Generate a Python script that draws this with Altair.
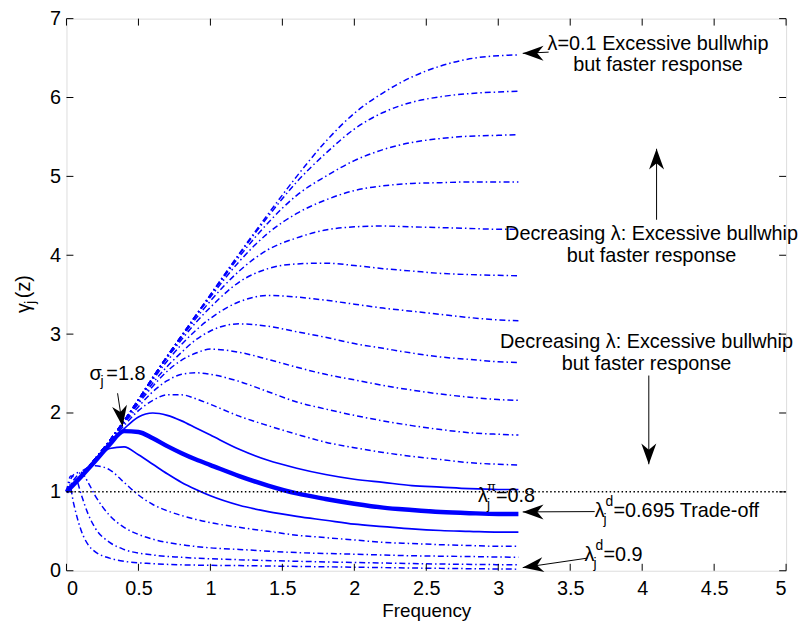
import altair as alt
import pandas as pd

# ---------------- data ----------------
FREQ = [0.0, 0.1, 0.2, 0.3, 0.4, 0.5, 0.6, 0.7, 0.8, 0.9, 1.0, 1.2, 1.4,
        1.6, 1.8, 2.0, 2.2, 2.4, 2.6, 2.8, 3.0, 3.14]

GAMMA_01 = [1.0, 1.2, 1.42, 1.65, 1.9, 2.17, 2.45, 2.72, 2.98, 3.24, 3.5, 4.02, 4.52, 5.0, 5.44, 5.8, 6.06, 6.26, 6.4, 6.49, 6.53, 6.54]
GAMMA_02 = [1.0, 1.2, 1.42, 1.65, 1.9, 2.17, 2.45, 2.72, 2.98, 3.24, 3.5, 4.01, 4.49, 4.93, 5.29, 5.6, 5.81, 5.94, 6.01, 6.05, 6.07, 6.08]
GAMMA_03 = [1.0, 1.2, 1.42, 1.65, 1.9, 2.17, 2.45, 2.72, 2.98, 3.24, 3.49, 3.98, 4.41, 4.76, 5.0, 5.2, 5.34, 5.43, 5.48, 5.51, 5.52, 5.53]
GAMMA_04 = [1.0, 1.2, 1.42, 1.65, 1.9, 2.17, 2.45, 2.72, 2.98, 3.23, 3.47, 3.92, 4.28, 4.53, 4.7, 4.82, 4.88, 4.91, 4.92, 4.93, 4.93, 4.93]
GAMMA_05 = [1.0, 1.2, 1.42, 1.65, 1.9, 2.17, 2.45, 2.71, 2.96, 3.2, 3.42, 3.8, 4.07, 4.22, 4.32, 4.36, 4.37, 4.36, 4.35, 4.34, 4.33, 4.33]
GAMMA_06 = [1.0, 1.2, 1.42, 1.65, 1.9, 2.17, 2.44, 2.7, 2.93, 3.15, 3.34, 3.66, 3.83, 3.89, 3.9, 3.87, 3.83, 3.8, 3.77, 3.755, 3.745, 3.74]
GAMMA_07 = [1.0, 1.2, 1.42, 1.65, 1.9, 2.16, 2.42, 2.66, 2.87, 3.05, 3.2, 3.41, 3.49, 3.47, 3.43, 3.38, 3.33, 3.29, 3.25, 3.21, 3.18, 3.17]
GAMMA_08 = [1.0, 1.2, 1.42, 1.65, 1.89, 2.14, 2.38, 2.59, 2.77, 2.93, 3.04, 3.13, 3.1, 3.03, 2.96, 2.88, 2.82, 2.76, 2.71, 2.68, 2.65, 2.64]
GAMMA_09 = [1.0, 1.2, 1.42, 1.65, 1.88, 2.12, 2.34, 2.53, 2.67, 2.76, 2.81, 2.77, 2.68, 2.58, 2.49, 2.42, 2.35, 2.29, 2.24, 2.2, 2.17, 2.16]
GAMMA_10 = [1.0, 1.2, 1.42, 1.64, 1.87, 2.08, 2.27, 2.41, 2.49, 2.51, 2.49, 2.4, 2.27, 2.14, 2.05, 1.97, 1.9, 1.84, 1.79, 1.75, 1.73, 1.72]
GAMMA_11 = [1.0, 1.2, 1.41, 1.63, 1.84, 2.03, 2.16, 2.23, 2.23, 2.18, 2.11, 1.96, 1.84, 1.73, 1.63, 1.56, 1.5, 1.45, 1.41, 1.37, 1.35, 1.34]
GAMMA_12 = [1.0, 1.19, 1.4, 1.62, 1.8, 1.95, 2.0, 1.97, 1.9, 1.81, 1.72, 1.54, 1.4, 1.3, 1.22, 1.16, 1.12, 1.08, 1.06, 1.04, 1.03, 1.03]
GAMMA_13 = [1.0, 1.19, 1.39, 1.6, 1.77, 1.76, 1.68, 1.58, 1.49, 1.41, 1.34, 1.2, 1.08, 0.98, 0.91, 0.85, 0.8, 0.77, 0.745, 0.73, 0.72, 0.72]
GAMMA_14 = [1.0, 1.18, 1.38, 1.55, 1.57, 1.47, 1.35, 1.23, 1.12, 1.03, 0.95, 0.83, 0.75, 0.69, 0.64, 0.59, 0.56, 0.53, 0.51, 0.5, 0.49, 0.49]

FREQ_15 = [0.0, 0.05, 0.1, 0.2, 0.3, 0.4, 0.5, 0.6, 0.7, 0.8, 0.9, 1.0, 1.2, 1.4, 1.6, 1.8, 2.0, 2.2, 2.4, 2.6, 2.8, 3.0, 3.14]
GAMMA_15 = [1.0, 1.15, 1.25, 1.33, 1.28, 1.12, 0.96, 0.84, 0.76, 0.7, 0.65, 0.61, 0.55, 0.5, 0.45, 0.42, 0.39, 0.36, 0.345, 0.33, 0.32, 0.31, 0.31]
FREQ_16 = [0.0, 0.05, 0.1, 0.15, 0.2, 0.3, 0.4, 0.5, 0.6, 0.8, 1.0, 1.2, 1.6, 2.0, 2.4, 2.8, 3.14]
GAMMA_16 = [1.0, 1.22, 1.25, 1.12, 0.95, 0.7, 0.55, 0.46, 0.4, 0.33, 0.29, 0.27, 0.23, 0.21, 0.19, 0.18, 0.17]
FREQ_17 = [0.0, 0.03, 0.07, 0.1, 0.15, 0.2, 0.3, 0.4, 0.6, 0.8, 1.2, 1.6, 2.0, 2.6, 3.14]
GAMMA_17 = [1.0, 1.2, 1.15, 0.98, 0.72, 0.54, 0.36, 0.27, 0.2, 0.17, 0.14, 0.12, 0.105, 0.085, 0.075]
FREQ_18 = [0.0, 0.02, 0.05, 0.1, 0.15, 0.2, 0.3, 0.4, 0.6, 0.8, 1.2, 1.6, 2.0, 2.6, 3.14]
GAMMA_18 = [1.0, 1.1, 0.85, 0.52, 0.33, 0.24, 0.16, 0.12, 0.09, 0.075, 0.065, 0.055, 0.045, 0.03, 0.02]

LINE_STYLE = ["dashdot"] * 11 + ["solid", "thick", "solid"] + ["dashdot"] * 4

X_TICKS = [0, 0.5, 1, 1.5, 2, 2.5, 3, 3.5, 4, 4.5, 5]
Y_TICKS = [0, 1, 2, 3, 4, 5, 6, 7]
REF_LEVEL = [1.0]

TEXT_TOP_1 = "λ=0.1 Excessive bullwhip"
TEXT_TOP_2 = "but  faster response"
TEXT_DEC_1 = "Decreasing λ: Excessive bullwhip"
TEXT_DEC_2 = "but  faster response"

# ---------------- build table ----------------
series = [(FREQ, g) for g in [GAMMA_01, GAMMA_02, GAMMA_03, GAMMA_04, GAMMA_05, GAMMA_06,
                              GAMMA_07, GAMMA_08, GAMMA_09, GAMMA_10, GAMMA_11, GAMMA_12,
                              GAMMA_13, GAMMA_14]]
series += [(FREQ_15, GAMMA_15), (FREQ_16, GAMMA_16), (FREQ_17, GAMMA_17), (FREQ_18, GAMMA_18)]
rows = []
for i, (fx, gy) in enumerate(series):
    for a, b in zip(fx, gy):
        rows.append({"curve": i, "freq": a, "gamma": b, "style": LINE_STYLE[i]})
df = pd.DataFrame(rows)

W, H = 726, 557
FONT = "Liberation Sans"
BLUE = "#0000ff"
TS = 20
SS = 14
XS = alt.Scale(domain=[0, 5], nice=False, zero=False)
YS = alt.Scale(domain=[0, 7], nice=False, zero=False)

X_AX = alt.Axis(values=X_TICKS, labelExpr="'' + datum.value", title="Frequency",
                ticks=False, domain=False, grid=False, labelPadding=8,
                labelFont=FONT, labelFontSize=20, labelColor="black",
                titleFont=FONT, titleFontSize=19, titleFontWeight="normal",
                titleColor="black", titlePadding=3)
Y_AX = alt.Axis(values=Y_TICKS, title="", ticks=False, domain=False, grid=False,
                labelPadding=6, labelFont=FONT, labelFontSize=20, labelColor="black")


def X(field):
    return alt.X(field, scale=XS, axis=X_AX, title="Frequency")


def Y(field):
    return alt.Y(field, scale=YS, axis=Y_AX, title="")


base = alt.Chart(df).encode(x=X("freq:Q"), y=Y("gamma:Q"), detail="curve:N")

dashdot = base.transform_filter("datum.style == 'dashdot'").mark_line(
    color=BLUE, strokeWidth=1.5, strokeDash=[6, 3, 1.5, 3], interpolate="monotone")
solid = base.transform_filter("datum.style == 'solid'").mark_line(
    color=BLUE, strokeWidth=1.7, interpolate="monotone")
thick = base.transform_filter("datum.style == 'thick'").mark_line(
    color=BLUE, strokeWidth=4.5, interpolate="monotone")

ref = alt.Chart(pd.DataFrame({"y": REF_LEVEL})).mark_rule(
    color="black", strokeWidth=1.5, strokeDash=[1.5, 2.5]).encode(
    y=Y("y:Q"), x=alt.value(0), x2=alt.value(W))

xt = pd.DataFrame({"v": X_TICKS})
yt = pd.DataFrame({"v": Y_TICKS})
tick_b = alt.Chart(xt).mark_rule(color="black").encode(
    x=X("v:Q"), y=alt.value(H), y2=alt.value(H - 7))
tick_t = alt.Chart(xt).mark_rule(color="black").encode(
    x=X("v:Q"), y=alt.value(0), y2=alt.value(7))
tick_l = alt.Chart(yt).mark_rule(color="black").encode(
    y=Y("v:Q"), x=alt.value(0), x2=alt.value(7))
tick_r = alt.Chart(yt).mark_rule(color="black").encode(
    y=Y("v:Q"), x=alt.value(W), x2=alt.value(W - 7))


def txt(x, y, s, size=TS, align="left", dx=0, dy=0):
    return alt.Chart(pd.DataFrame({"x": [x], "y": [y], "t": [s]})).mark_text(
        align=align, baseline="alphabetic", dx=dx, dy=dy, fontSize=size, font=FONT,
        color="black").encode(x=X("x:Q"), y=Y("y:Q"), text="t:N")


HEAD = "M0,0L0.36,1L0,0.7L-0.36,1Z"


def arrow(x1, y1, x2, y2, angle):
    d = pd.DataFrame({"x": [x1], "y": [y1], "x2": [x2], "y2": [y2]})
    line = alt.Chart(d).mark_rule(color="black", strokeWidth=1).encode(
        x=X("x:Q"), y=Y("y:Q"), x2="x2:Q", y2="y2:Q")
    head = alt.Chart(d).mark_point(shape=HEAD, filled=True, size=1764, angle=angle,
                                   color="black", opacity=1, strokeWidth=0).encode(
        x=X("x2:Q"), y=Y("y2:Q"))
    return [line, head]


annos = []
annos += [txt(4.11, 6.60, TEXT_TOP_1, align="center"), txt(4.11, 6.34, TEXT_TOP_2, align="center")]
annos += [txt(4.065, 4.19, TEXT_DEC_1, align="center"), txt(4.065, 3.91, TEXT_DEC_2, align="center")]
annos += [txt(4.03, 2.82, TEXT_DEC_1, align="center"), txt(4.03, 2.545, TEXT_DEC_2, align="center")]
# sigma_j = 1.8
annos += [txt(0.16, 2.42, "σ"), txt(0.16, 2.42, "j", size=SS, dx=11, dy=6), txt(0.16, 2.42, "=1.8", dx=17)]
# lambda_j^pi = 0.8
annos += [txt(2.86, 0.875, "λ"), txt(2.86, 0.875, "π", size=13, dx=9, dy=-11),
          txt(2.86, 0.875, "j", size=SS, dx=9, dy=7), txt(2.86, 0.875, "=0.8", dx=18)]
# lambda_j^d = 0.695
annos += [txt(3.67, 0.68, "λ"), txt(3.67, 0.68, "d", size=SS, dx=11, dy=-11),
          txt(3.67, 0.68, "j", size=SS, dx=9, dy=7), txt(3.67, 0.68, "=0.695 Trade-off", dx=19)]
# lambda_j^d = 0.9
annos += [txt(3.60, 0.12, "λ"), txt(3.60, 0.12, "d", size=SS, dx=11, dy=-11),
          txt(3.60, 0.12, "j", size=SS, dx=9, dy=7), txt(3.60, 0.12, "=0.9", dx=19)]

annos += arrow(3.35, 6.575, 3.17, 6.56, 270)
annos += arrow(4.10, 4.45, 4.10, 5.35, 0)
annos += arrow(4.046, 2.475, 4.046, 1.35, 180)
annos += arrow(0.355, 2.25, 0.39, 1.83, 171.5)
annos += arrow(3.67, 0.75, 3.17, 0.746, 270)
annos += arrow(3.62, 0.16, 3.17, 0.04, 261.6)

# y title gamma_j(z), rotated
ytitle = []
for s, dx, dy, size in [("γ", 0, 0, TS), ("j", 9, 5, SS), ("(z)", 15, 0, TS)]:
    ytitle.append(alt.Chart(pd.DataFrame({"t": [s]})).mark_text(
        align="left", baseline="alphabetic", angle=270, dx=dx, dy=dy, fontSize=size,
        font=FONT, color="black").encode(x=alt.value(-37), y=alt.value(297), text="t:N"))

chart = alt.layer(dashdot, solid, thick, ref, tick_b, tick_t, tick_l, tick_r,
                  *annos, *ytitle).properties(
    width=W, height=H,
    autosize=alt.AutoSizeParams(type="none"),
    padding={"left": 59, "top": 8, "right": 12, "bottom": 50},
).configure_view(stroke="black", strokeWidth=1.2).configure(background="white")

chart.save("out.html", embed_options={"renderer": "svg", "actions": False})
